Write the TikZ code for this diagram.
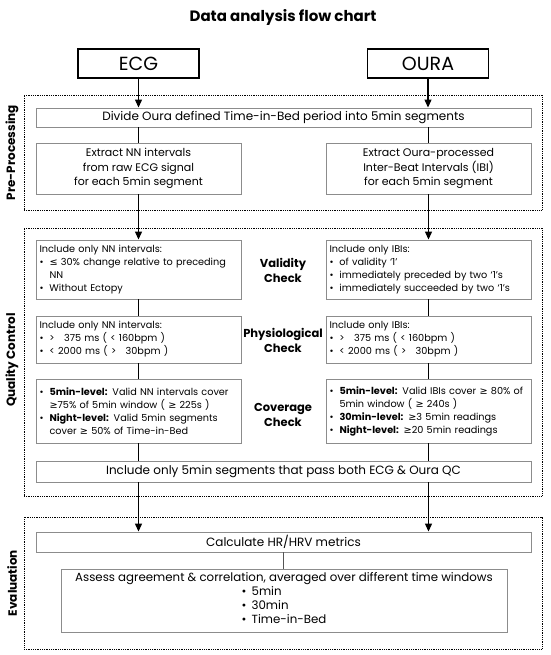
\documentclass[tikz,border=0pt]{standalone}
\usepackage{fontspec}
\setmainfont{Poppins}
\newfontfamily\symfont{DejaVu Sans}
\usetikzlibrary{arrows.meta,positioning}
\definecolor{ink}{HTML}{000000}
\definecolor{rule}{HTML}{8C8C8C}
\definecolor{link}{HTML}{555555}
\tikzset{
  src/.style={rectangle, draw=ink, line width=1.2pt, minimum width=121pt,
              minimum height=29pt, inner sep=0pt, font=\fontsize{19}{21}\selectfont},
  box/.style={rectangle, draw=rule, line width=0.9pt, fill=white, inner sep=0pt,
              align=center, font=\fontsize{11}{14.5}\selectfont},
  wide/.style={box, minimum width=495pt, font=\fontsize{12}{14}\selectfont},
  qc/.style={box, minimum width=205pt, text width=198pt, inner xsep=3.5pt,
             align=left, font=\fontsize{9.7}{13}\selectfont},
  stage/.style={rectangle, draw=ink, densely dotted, line width=0.8pt, minimum width=518pt},
  chk/.style={align=center, font=\bfseries\fontsize{11.5}{15}\selectfont},
  side/.style={rotate=90, font=\bfseries\fontsize{12}{14}\selectfont},
  fl/.style={-{Triangle[length=8pt,width=7pt]}, draw=ink, line width=1.2pt},
  ln/.style={draw=ink, line width=1.2pt}
}
\newcommand{\itm}{\makebox[10pt][l]{\textbullet}}
\newcommand{\cnt}{\hspace*{10pt}}
\newcommand{\symle}{{\symfont ≤}}
\newcommand{\symge}{{\symfont ≥}}

\begin{document}
\begin{tikzpicture}[x=1pt, y=-1pt]
  \useasboundingbox (0,0) rectangle (550,655);
  \node[font=\bfseries\fontsize{15}{17}\selectfont] (title) at (283,17) {Data analysis flow chart};
  \node[src] (ecg) at (138.5,63.5) {ECG};
  \node[src] (oura) at (428,63.5) {OURA};

  % stages
  \node[stage, minimum height=115pt] (pre) at (283,152.5) {};
  \node[stage, minimum height=268pt] (qcs) at (283,362) {};
  \node[stage, minimum height=132pt] (eva) at (283,583) {};
  \node[side] (prelbl) at (12,152.5) {Pre-Processing};
  \node[side] (qclbl) at (12,360) {Quality Control};
  \node[side] (evalbl) at (12,583) {Evaluation};

  % pre-processing
  \node[wide, minimum height=19pt] (divide) at (283.5,117.5) {Divide Oura defined Time-in-Bed period into 5min segments};
  \node[box, minimum width=205pt, minimum height=51pt] (nnext) at (138.5,168.5)
    {Extract NN intervals\\from raw ECG signal\\for each 5min segment};
  \node[box, minimum width=205pt, minimum height=51pt] (ibiext) at (428.5,168.5)
    {Extract Oura-processed\\Inter-Beat Intervals (IBI)\\for each 5min segment};

  % quality control
  \node[qc, minimum height=59pt] (nnvld) at (138.5,269.5)
    {Include only NN intervals:\\\itm\symle{} 30\% change relative to preceding\\\cnt NN\\\itm Without Ectopy};
  \node[qc, minimum height=59pt] (ibivld) at (428.5,269.5)
    {Include only IBIs:\\\itm of validity ‘1’\\\itm immediately preceded by two ‘1’s\\\itm immediately succeeded by two ‘1’s};
  \node[qc, minimum height=47pt] (nnphy) at (138.5,339.5)
    {Include only NN intervals:\\\itm >\phantom{0} 375 ms ( < 160bpm )\\\itm < 2000 ms ( >\phantom{0} 30bpm )};
  \node[qc, minimum height=47pt] (ibiphy) at (428.5,339.5)
    {Include only IBIs:\\\itm >\phantom{0} 375 ms ( < 160bpm )\\\itm < 2000 ms ( >\phantom{0} 30bpm )};
  \node[qc, minimum height=64pt] (nncov) at (138.5,411)
    {\itm\mbox{\textbf{5min-level:} Valid NN intervals cover}\\\cnt\symge75\% of 5min window ( \symge{} 225s )\\\itm\textbf{Night-level:} Valid 5min segments\\\cnt cover \symge{} 50\% of Time-in-Bed};
  \node[qc, minimum height=64pt] (ibicov) at (428.5,411)
    {\itm\mbox{\textbf{5min-level:} Valid IBIs cover \symge{} 80\% of}\\\cnt 5min window ( \symge{} 240s )\\\itm\textbf{30min-level:} \symge3 5min readings\\\itm\textbf{Night-level:} \symge20 5min readings};
  \node[chk] (vldlbl) at (283,270) {Validity\\Check};
  \node[chk] (phylbl) at (283,340) {Physiological\\Check};
  \node[chk] (covlbl) at (283,415) {Coverage\\Check};
  \node[wide, minimum height=21pt] (final) at (283.5,471.5) {Include only 5min segments that pass both ECG \& Oura QC};

  % evaluation
  \node[wide, minimum height=20pt] (calc) at (283.5,542) {Calculate HR/HRV metrics};
  \node[box, minimum width=446pt, minimum height=63pt, font=\fontsize{11.8}{14}\selectfont] (assess) at (284,600.5)
    {Assess agreement \& correlation, averaged over different time windows\\
     \begin{tabular}[t]{@{}l@{}}\itm 5min\\\itm 30min\\\itm Time-in-Bed\end{tabular}};

  % connectors
  \draw[fl] (ecg) -- (ecg |- divide.north);
  \draw[fl] (oura) -- (oura |- divide.north);
  \draw[ln] (nnext |- divide.south) -- (nnext.north);
  \draw[ln] (ibiext |- divide.south) -- (ibiext.north);
  \draw[fl] (nnext) -- (nnvld);
  \draw[fl] (ibiext) -- (ibivld);
  \draw[ln] (nnvld) -- (nnphy);
  \draw[ln] (ibivld) -- (ibiphy);
  \draw[ln] (nnphy) -- (nncov);
  \draw[ln] (ibiphy) -- (ibicov);
  \draw[ln] (nncov) -- (nncov |- final.north);
  \draw[ln] (ibicov) -- (ibicov |- final.north);
  \draw[fl] (nncov |- final.south) -- (nncov |- calc.north);
  \draw[fl] (ibicov |- final.south) -- (ibicov |- calc.north);
  \draw[ln, draw=link] (calc) -- (calc |- assess.north);
\end{tikzpicture}
\end{document}
